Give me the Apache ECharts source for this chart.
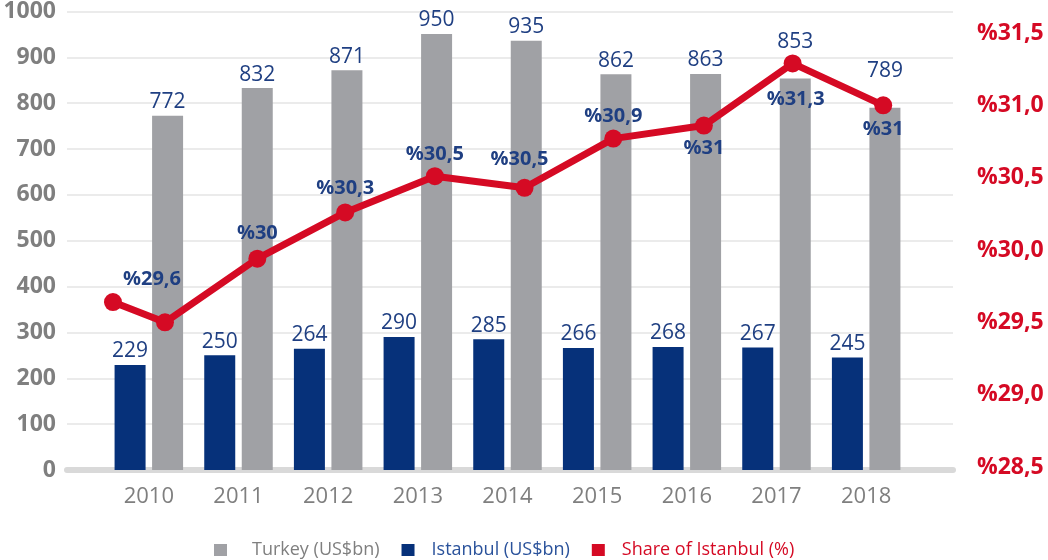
<!DOCTYPE html>
<html>
<head>
<meta charset="utf-8">
<script src="https://cdn.jsdelivr.net/npm/echarts@6/dist/echarts.min.js"></script>
<style>
  html, body { margin: 0; padding: 0; background: #fff; }
  #chart { width: 1048px; height: 560px; }
</style>
</head>
<body>
<div id="chart"></div>
<script>
// categories and values
const years = ['2010', '2011', '2012', '2013', '2014', '2015', '2016', '2017', '2018'];
const turkey = [772, 832, 871, 950, 935, 862, 863, 853, 789];
const istanbul = [229, 250, 264, 290, 285, 266, 268, 267, 245];
// share line: position along the year axis (index units) and value in %
const shareX = [-0.4, 0.18, 1.21, 2.19, 3.19, 4.19, 5.18, 6.19, 7.18, 8.19];
const shareY = [29.64, 29.5, 29.94, 30.26, 30.51, 30.43, 30.77, 30.86, 31.29, 31.0];
const shareLabels = ['', '%29,6', '%30', '%30,3', '%30,5', '%30,5', '%30,9', '%31', '%31,3', '%31'];

const FONT = 'Open Sans';
const GRAY = '#a0a1a5';
const BLUE = '#06317a';
const RED = '#d50a24';
const TEXT_BLUE = '#1f3f82';

// where each share label sits relative to its point
const labelPlace = [
  null,
  { position: 'top', distance: 24, offset: [-13, 0] },
  { position: 'top', distance: 6 },
  { position: 'top', distance: 5 },
  { position: 'top', distance: 3 },
  { position: 'top', distance: 9, offset: [-5, 0] },
  { position: 'top', distance: 3 },
  { position: 'bottom', distance: 4 },
  { position: 'bottom', distance: 17, offset: [3, 0] },
  { position: 'bottom', distance: 5 },
];

const shareData = shareX.map((x, i) => {
  const item = { value: [x, shareY[i]] };
  if (labelPlace[i]) {
    item.label = { show: true, formatter: shareLabels[i], ...labelPlace[i] };
  } else {
    item.label = { show: false };
  }
  return item;
});

// the last two Turkey labels sit higher, clear of the line
const turkeyData = turkey.map((v, i) => (i >= 7 ? { value: v, label: { distance: 26 } } : v));

const hidden = { show: false };

const option = {
  animation: false,
  textStyle: { fontFamily: FONT },
  legend: {
    left: 209,
    top: 536,
    icon: 'rect',
    itemWidth: 13,
    itemHeight: 12,
    itemGap: 22,
    textStyle: { fontSize: 18, fontFamily: FONT },
    data: [
      { name: 'Turkey (US$bn)', textStyle: { color: '#7f7f7f', padding: [0, 0, 0, 20] } },
      { name: 'Istanbul (US$bn)', textStyle: { color: '#2a529b', padding: [0, 0, 0, 12] } },
      { name: 'Share of Istanbul (%)', textStyle: { color: RED, padding: [0, 0, 0, 12] } },
    ],
  },
  grid: [
    { left: 67, right: 95, top: 11, bottom: 90 },
    { left: 104, right: 137, top: 11, bottom: 90 },
    { left: 104, right: 137, top: 33, bottom: 93 },
  ],
  xAxis: [
    {
      gridIndex: 0,
      type: 'value',
      min: 0,
      max: 1,
      axisLine: { show: true, lineStyle: { color: '#d9d9d9', width: 6 } },
      axisTick: hidden,
      axisLabel: hidden,
      splitLine: hidden,
    },
    {
      gridIndex: 1,
      type: 'category',
      data: years,
      axisLine: hidden,
      axisTick: hidden,
      axisLabel: { color: '#7f7f7f', fontSize: 22, margin: 16, fontFamily: FONT },
    },
    {
      gridIndex: 2,
      type: 'value',
      min: -0.5,
      max: 8.5,
      show: false,
    },
  ],
  yAxis: [
    {
      gridIndex: 0,
      type: 'value',
      min: 0,
      max: 1000,
      interval: 100,
      axisLine: hidden,
      axisTick: hidden,
      axisLabel: {
        color: '#7f7f7f',
        fontSize: 23,
        fontWeight: 'bold',
        margin: 11,
        fontFamily: FONT,
        formatter: v => String(v),
      },
      splitLine: { lineStyle: { color: '#e4e4e4', width: 1.5 } },
    },
    {
      gridIndex: 1,
      type: 'value',
      min: 0,
      max: 1000,
      show: false,
    },
    {
      gridIndex: 2,
      type: 'value',
      position: 'right',
      offset: 42,
      min: 28.5,
      max: 31.5,
      interval: 0.5,
      axisLine: hidden,
      axisTick: hidden,
      splitLine: hidden,
      axisLabel: {
        color: RED,
        fontSize: 23,
        fontWeight: 'bold',
        margin: 24,
        fontFamily: FONT,
        formatter: v => '%' + v.toFixed(1).replace('.', ','),
      },
    },
  ],
  series: [
    {
      name: 'Istanbul (US$bn)',
      type: 'bar',
      xAxisIndex: 1,
      yAxisIndex: 1,
      barWidth: 31,
      barGap: '21%',
      itemStyle: { color: BLUE },
      label: { show: true, position: 'top', distance: 3, color: TEXT_BLUE, fontSize: 21, fontFamily: FONT },
      data: istanbul,
    },
    {
      name: 'Turkey (US$bn)',
      type: 'bar',
      xAxisIndex: 1,
      yAxisIndex: 1,
      barWidth: 31,
      itemStyle: { color: GRAY },
      label: { show: true, position: 'top', distance: 3, color: TEXT_BLUE, fontSize: 21, fontFamily: FONT },
      data: turkeyData,
    },
    {
      name: 'Share of Istanbul (%)',
      type: 'line',
      xAxisIndex: 2,
      yAxisIndex: 2,
      symbol: 'circle',
      symbolSize: 18,
      z: 5,
      lineStyle: { color: RED, width: 7 },
      itemStyle: { color: RED },
      label: { color: TEXT_BLUE, fontSize: 20, fontWeight: 'bold', fontFamily: FONT },
      data: shareData,
    },
  ],
};

const myChart = echarts.init(document.getElementById('chart'));
myChart.setOption(option);
</script>
</body>
</html>
